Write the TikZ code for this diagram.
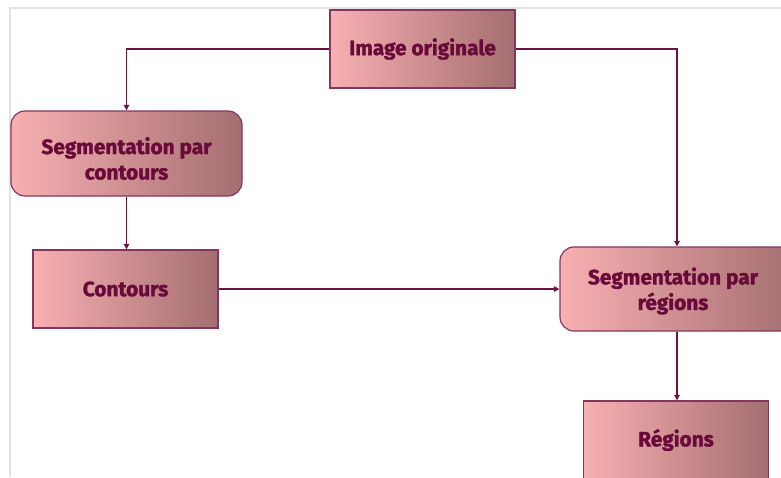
\documentclass[tikz,border=0pt]{standalone}
\usepackage{fontspec}
\setmainfont{Fira Sans}[BoldFeatures={FakeBold=1.6}]
\usetikzlibrary{arrows.meta}
\definecolor{txt}{HTML}{6A0A3A}
\definecolor{edge}{HTML}{6E1242}
\definecolor{boxl}{HTML}{F8B0B2}
\definecolor{boxr}{HTML}{A46E70}
\definecolor{frame}{HTML}{E2E2E2}
\tikzset{
  lbl/.style={text=txt, font=\fontsize{20.8}{25.5}\selectfont\bfseries, align=center, inner sep=0pt},
  box/.style={draw=edge!85, line width=1.2pt, left color=boxl, right color=boxr,
    shading angle=90, lbl},
  sqbox/.style={box, minimum width=185pt, minimum height=78pt},
  rbox/.style={box, rounded corners=14pt},
  link/.style={draw=edge, line width=1.6pt, -{Triangle[length=5.5pt,width=5.5pt]}}
}
\begin{document}
\begin{tikzpicture}[x=1pt,y=-1pt]
\useasboundingbox (0,0) rectangle (781,477);
\fill[white] (0,0) rectangle (781,477);
\draw[frame, line width=1.2pt] (10,477) -- (10,8) -- (781,8);
\node[sqbox] (img) at (422.5,49) {Image originale};
\node[rbox, minimum width=231pt, minimum height=85pt] (segc) at (126.5,153.5) {};
\node[lbl] (segct) at ([yshift=-5pt]segc.center) {Segmentation par\\contours};
\node[sqbox] (cont) at (125.5,289) {Contours};
\node[rbox, minimum width=234pt, minimum height=84pt] (segr) at (677,289) {};
\node[lbl] (segrt) at ([yshift=-2pt,xshift=-4pt]segr.center) {Segmentation par\\régions};
\node[sqbox, minimum height=78pt] (reg) at (676,440) {Régions};
\draw[link] (img.west) -| (segc.north);
\draw[link] (img.east) -| (segr.north);
\draw[link] (segc.south) -- (segc.south |- cont.north);
\draw[link] (cont.east) -- (segr.west);
\draw[link] (segr.south) -- (segr.south |- reg.north);
\end{tikzpicture}
\end{document}
